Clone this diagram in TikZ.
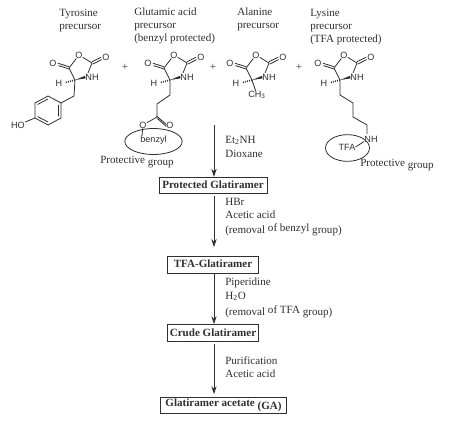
\documentclass[tikz,border=0pt]{standalone}
\usepackage{fontspec}
\setmainfont{Liberation Serif}
\setsansfont{Liberation Sans}
\usepackage{xcolor}
\usetikzlibrary{positioning, arrows.meta, shapes.geometric}
\definecolor{gaink}{HTML}{303030}

\begin{document}
\begin{tikzpicture}[
  x=0.75pt, y=-0.75pt,
  every node/.style={text=gaink},
  bond/.style={draw=gaink, line width=0.6pt},
  atom/.style={font=\sffamily\fontsize{6.8pt}{8pt}\selectfont, inner sep=0pt},
  title/.style={font=\fontsize{8.3pt}{9.9pt}\selectfont, align=left, anchor=north west, inner sep=0pt},
  reagent/.style={font=\fontsize{8.3pt}{9.9pt}\selectfont, align=left, anchor=north west, inner sep=0pt},
  stage/.style={rectangle, draw=gaink, line width=0.6pt, font=\fontsize{8.3pt}{9pt}\selectfont\bfseries,
    minimum height=12.4pt, inner sep=0pt},
  guard/.style={ellipse, draw=gaink, line width=0.6pt, inner sep=0pt},
  note/.style={font=\fontsize{8.3pt}{9pt}\selectfont, anchor=west, inner sep=0pt},
  plus/.style={font=\fontsize{8.3pt}{9pt}\selectfont, inner sep=0pt},
  arrow/.style={-{Stealth[length=6pt, width=4pt]}, line width=0.6pt, draw=gaink},
  ncaring/.pic={
    \path (4,-25) node[atom] (-ox) {O};
    \path (-22,-17) node[atom] (-oleft) {O};
    \path (31,-23) node[atom] (-oright) {O};
    \path (17,-3) node[atom] (-nh) {NH};
    \path (-16,3) node[atom] (-h) {H};
    \coordinate (-ca) at (0,0);
    \coordinate (-cl) at (-6,-12);
    \coordinate (-cr) at (17,-17);
    \draw[bond] (-ca) -- (-cl) -- (-ox) -- (-cr) -- (13,-7);
    \draw[bond] (-cl) ++(0,-1.2) -- ++(-11,-3.6);
    \draw[bond] (-cl) ++(0.5,1.2) -- ++(-11,-3.6);
    \draw[bond] (-cr) ++(0,-1.2) -- ++(9,-4.6);
    \draw[bond] (-cr) ++(0.6,1.2) -- ++(9,-4.6);
    \fill[gaink] (-ca) -- (10,-4.2) -- (10.6,-1.6) -- cycle;
    \draw[bond, dash pattern=on 0.7pt off 0.9pt, line width=1.3pt] (-ca) -- (-10,2.6);
  },
]
\useasboundingbox (0,0) rectangle (453,424);

% --- Row 1: Precursor names ---
\node[title] (tyrname) at (59,9) {Tyrosine\\precursor};
\node[title] (gluname) at (134,7.5) {Glutamic acid\\precursor\\(benzyl protected)};
\node[title] (alaname) at (237,7.5) {Alanine\\precursor};
\node[title] (lysname) at (310,9) {Lysine\\precursor\\(TFA protected)};

% --- Row 2: Precursors ---
\pic (tyr) at (75,80) {ncaring};
\pic (glu) at (170,80) {ncaring};
\pic (ala) at (252,80) {ncaring};
\pic (lys) at (340,80) {ncaring};

\node[plus] (plusa) at (125,67) {+};
\node[plus] (plusb) at (213,67) {+};
\node[plus] (plusc) at (299,67) {+};

% tyrosine side chain
\node[atom] (ho) at (18,125) {HO};
\draw[bond] (tyr-ca) -- (74,96) -- (61,103) -- (61,118) -- (48,125) -- (35,118) -- (35,103) -- (48,96) -- (61,103);
\draw[bond] (58.5,105) -- (58.5,116.5) (48,122) -- (37.5,116.5) (37.5,104.5) -- (48,99);
\draw[bond] (35,118) -- (ho);

% glutamic acid side chain
\node[atom] (gluo) at (143,125) {O};
\node[atom] (gluod) at (170,125) {O};
\node[guard, minimum width=43pt, minimum height=19.5pt] (benzyl) at (153.5,141.5) {};
\node[atom] (benzyltext) at (153.5,140.5) {benzyl};
\draw[bond] (glu-ca) -- (170,95) -- (157,104) -- (157,117) -- (gluo);
\draw[bond] (156.6,116) -- (gluod.170) (157.4,118.5) -- (gluod.200);
\draw[bond] (gluo) -- (142,136);

% alanine side chain
\node[atom] (ch) at (257,95) {CH\textsubscript{3}};
\draw[bond] (ala-ca) -- (ch);

% lysine side chain
\node[atom] (lysnh) at (371,139) {NH};
\node[guard, minimum width=33pt, minimum height=20pt] (tfa) at (347.5,148) {};
\node[atom] (tfatext) at (347,147) {TFA};
\draw[bond] (lys-ca) -- (340,95) -- (353,103) -- (353,117) -- (367,125) -- (367,134);
\draw[bond] (lysnh.200) -- (tfatext.east);

% --- Protective group notes ---
\node[note] (notea) at (100,162) {Protective \raisebox{-1.2pt}{group}};
\node[note] (noteb) at (360,165) {Protective \raisebox{-1.2pt}{group}};

% --- Stages ---
\node[stage, minimum width=81pt] (protected) at (213,185.5) {\raisebox{1.5pt}{Protected Glatiramer}};
\node[stage, minimum width=68pt, below=46.5pt of protected] (tfaglat) {\raisebox{1.5pt}{TFA-Glatiramer}};
\node[stage, minimum width=68pt, below=38pt of tfaglat] (crude) {\raisebox{1pt}{Crude Glatiramer}};
\node[stage, minimum width=94pt, below=41.5pt of crude, xshift=7.9pt] (ga)
  {\raisebox{1.5pt}{Glatiramer acetate} \raisebox{-0.5pt}{(GA)}};

% --- Reagents ---
\coordinate (start) at (214,125);
\node[reagent] (etnh) at (225,135.5) {Et\textsubscript{2}NH\\[1.2pt]Dioxane};
\node[reagent] (hbr) at (225,198) {HBr\\Acetic acid\\[1.2pt](removal \raisebox{1.2pt}{of benzyl} group)};
\node[reagent] (pip) at (225,278) {Piperidine\\H\textsubscript{2}O\\[2.4pt](removal \raisebox{1.2pt}{of TFA} group)};
\node[reagent] (puri) at (225,356) {Purification\\Acetic acid};

% --- Arrows ---
\draw[arrow] (start) -- (start |- protected.north);
\draw[arrow, shorten >=6.8pt, shorten <=1.5pt] (start |- protected.south) -- (start |- tfaglat.north);
\draw[arrow] (start |- tfaglat.south) -- (start |- crude.north);
\draw[arrow, shorten >=2pt, shorten <=2pt] (start |- crude.south) -- (start |- ga.north);
\end{tikzpicture}
\end{document}
